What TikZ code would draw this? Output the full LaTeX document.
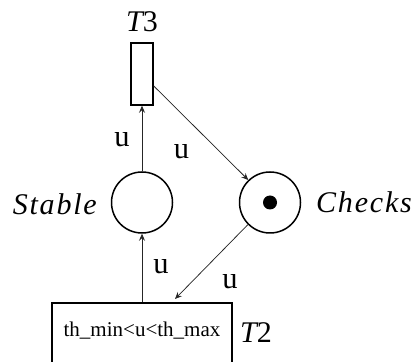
\documentclass[tikz,border=0pt]{standalone}
\usepackage{fontspec}
\setmainfont{Liberation Serif}
\newfontfamily\spacedfont[LetterSpace=6]{Liberation Serif}
\usetikzlibrary{arrows.meta}
\begin{document}
\begin{tikzpicture}[x=1pt,y=1pt,
  placestyle/.style={circle,draw,line width=1.5pt,minimum size=61pt,inner sep=0pt},
  transstyle/.style={draw,line width=1.5pt,inner sep=0pt},
  tokenstyle/.style={circle,fill=black,minimum size=14pt,inner sep=0pt},
  arcstyle/.style={draw=black!85,line width=0.75pt,-{Stealth[length=7pt,width=6pt,inset=2.5pt]}},
  labstyle/.style={font=\fontsize{30.5}{34}\selectfont,inner sep=0pt},
  tnamestyle/.style={font=\fontsize{30}{34}\selectfont,inner sep=0pt},
  pnamestyle/.style={font=\fontsize{30}{34}\selectfont\spacedfont\itshape,inner sep=0pt}]
\useasboundingbox (0,0) rectangle (414,361);
% nodes
\node[transstyle,minimum width=22pt,minimum height=62pt] (T3) at (142,287) {};
\node[tnamestyle,anchor=base] (T3l) at (142,329) {\itshape T\upshape 3};
\node[placestyle] (S) at (142,158.5) {};
\node[placestyle] (C) at (270,158.5) {};
\node[tokenstyle] (tok) at (C) {};
\node[pnamestyle,anchor=base east] (Sl) at (97,146) {Stable};
\node[pnamestyle,anchor=base west] (Cl) at (316,148) {Checks};
\node[transstyle,minimum width=180pt,minimum height=66pt,anchor=north] (T2) at (142,59) {};
\node[font=\fontsize{21}{24}\selectfont,inner sep=0pt,anchor=base] (T2t) at (142,25) {th\_min<u<th\_max};
\node[tnamestyle,anchor=base west] (T2l) at (240,19) {\itshape T\upshape 2};
% arcs
\draw[arcstyle] (S.north) -- (T3.south);
\draw[arcstyle] ([yshift=-12pt]T3.east) -- (C.134);
\draw[arcstyle] (C.225) -- ([xshift=33pt,yshift=3pt]T2.north);
\draw[arcstyle] (T2.north) -- (S.south);
% labels
\node[labstyle] (u1) at (122,221.5) {u};
\node[labstyle] (u2) at (181.5,209.5) {u};
\node[labstyle] (u3) at (161,94.5) {u};
\node[labstyle] (u4) at (230,79.5) {u};
\end{tikzpicture}
\end{document}
